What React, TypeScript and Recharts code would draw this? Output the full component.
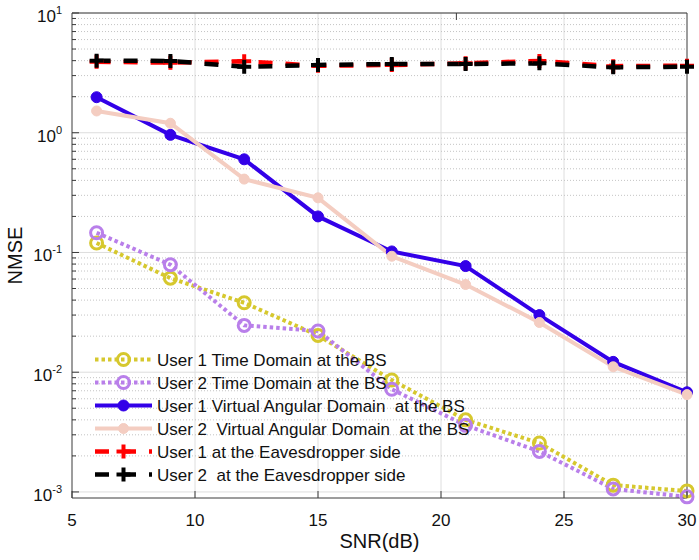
import React from 'react';
import { LineChart, Line, XAxis, YAxis, CartesianGrid, Legend } from 'recharts';

// ---------- data ----------
const snr = [6, 9, 12, 15, 18, 21, 24, 27, 30];
const user1Time = [0.12, 0.061, 0.038, 0.0203, 0.0086, 0.004, 0.00256, 0.00114, 0.00102];
const user2Time = [0.146, 0.079, 0.0246, 0.0221, 0.0072, 0.0036, 0.00218, 0.00106, 0.00091];
const user1Virtual = [1.98, 0.96, 0.6, 0.2, 0.102, 0.077, 0.03, 0.0122, 0.0068];
const user2Virtual = [1.52, 1.2, 0.41, 0.286, 0.093, 0.054, 0.026, 0.0111, 0.0065];
const user1Eve = [3.92, 3.85, 3.95, 3.62, 3.68, 3.8, 3.98, 3.6, 3.63];
const user2Eve = [4.0, 3.98, 3.55, 3.68, 3.75, 3.75, 3.8, 3.52, 3.56];

const xTicks = [5, 10, 15, 20, 25, 30];
const xGrid = [10, 15, 20, 25];
const yDecades = [0.001, 0.01, 0.1, 1, 10];
const yMinor = [
  0.002, 0.003, 0.004, 0.005, 0.006, 0.007, 0.008, 0.009,
  0.02, 0.03, 0.04, 0.05, 0.06, 0.07, 0.08, 0.09,
  0.2, 0.3, 0.4, 0.5, 0.6, 0.7, 0.8, 0.9,
  2, 3, 4, 5, 6, 7, 8, 9,
];
const yAllTicks = [...yDecades, ...yMinor].sort((a, b) => a - b);
const yDomain = [0.00089, 10];
const xDomain = [5, 30];

const xLabel = 'SNR(dB)';
const yLabel = 'NMSE';

// ---------- styles ----------
const FONT = '"Liberation Sans", Arial, Helvetica, sans-serif';
const AXIS = '#3a3a3a';
const TEXT = '#111';
const MAJOR_GRID = '#dedede';
const MINOR_GRID = '#c4c4c4';

type Series = {
  key: string;
  name: string;
  values: number[];
  color: string;
  width: number;
  dash?: string;
  marker: 'ring' | 'dot' | 'smalldot' | 'plus';
};

const series: Series[] = [
  { key: 'u1Time', name: 'User 1 Time Domain at the BS', values: user1Time, color: '#d6c82e', width: 4, dash: '3.5 3', marker: 'ring' },
  { key: 'u2Time', name: 'User 2 Time Domain at the BS', values: user2Time, color: '#b97fea', width: 4, dash: '3.5 3', marker: 'ring' },
  { key: 'u1Virt', name: 'User 1 Virtual Angular Domain  at the BS', values: user1Virtual, color: '#3300e8', width: 4, marker: 'dot' },
  { key: 'u2Virt', name: 'User 2  Virtual Angular Domain  at the BS', values: user2Virtual, color: '#f4cdc1', width: 4, marker: 'smalldot' },
  { key: 'u1Eve', name: 'User 1 at the Eavesdropper side', values: user1Eve, color: '#ff0000', width: 4.5, dash: '14 13', marker: 'plus' },
  { key: 'u2Eve', name: 'User 2  at the Eavesdropper side', values: user2Eve, color: '#000000', width: 4.5, dash: '14 13', marker: 'plus' },
];

const data = snr.map((s, i) => {
  const row: Record<string, number> = { snr: s };
  series.forEach((se) => {
    row[se.key] = se.values[i];
  });
  return row;
});

function drawMarker(kind: Series['marker'], cx: number, cy: number, color: string, key?: string) {
  if (kind === 'ring') {
    return <circle key={key} cx={cx} cy={cy} r={6} fill="none" stroke={color} strokeWidth={3} />;
  }
  if (kind === 'dot') {
    return <circle key={key} cx={cx} cy={cy} r={5.5} fill={color} stroke={color} strokeWidth={1} />;
  }
  if (kind === 'smalldot') {
    return <circle key={key} cx={cx} cy={cy} r={5} fill={color} stroke={color} strokeWidth={1} />;
  }
  return (
    <path
      key={key}
      d={`M${cx - 7},${cy}H${cx + 7}M${cx},${cy - 7}V${cy + 7}`}
      stroke={color}
      strokeWidth={4}
      fill="none"
    />
  );
}

const isDecade = (v: number) => yDecades.some((d) => Math.abs(d - v) / d < 1e-9);

const Y_TICK_MARGIN = 10;

const LeftTick = (props: any) => {
  const { x, y, payload } = props;
  const v = payload.value as number;
  const axisX = x + Y_TICK_MARGIN;
  const major = isDecade(v);
  const exp = Math.round(Math.log10(v));
  return (
    <g>
      <line x1={axisX} x2={axisX + (major ? 7 : 4)} y1={y} y2={y} stroke={AXIS} strokeWidth={1} />
      {major && (
        <text x={x} y={y} textAnchor="end" fontFamily={FONT} fill={TEXT}>
          <tspan fontSize={17} dy={9}>10</tspan>
          <tspan fontSize={11} dy={-8}>{String(exp)}</tspan>
        </text>
      )}
    </g>
  );
};

const RightTick = (props: any) => {
  const { x, y, payload } = props;
  const major = isDecade(payload.value as number);
  return <line x1={x - (major ? 7 : 4)} x2={x} y1={y} y2={y} stroke={AXIS} strokeWidth={1} />;
};

const BottomTick = (props: any) => {
  const { x, y, payload } = props;
  return (
    <g>
      <line x1={x} x2={x} y1={y} y2={y - 7} stroke={AXIS} strokeWidth={1} />
      <text x={x} y={y + 28} textAnchor="middle" fontFamily={FONT} fontSize={17} fill={TEXT}>
        {String(payload.value)}
      </text>
    </g>
  );
};

const TopTick = (props: any) => {
  const { x, y } = props;
  return <line x1={x} x2={x} y1={y} y2={y + 7} stroke={AXIS} strokeWidth={1} />;
};

const XLabelContent = (props: any) => {
  const vb = props.viewBox || {};
  return (
    <text x={vb.x + vb.width / 2} y={vb.y + 50} textAnchor="middle" fontFamily={FONT} fontSize={20} fill={TEXT}>
      {xLabel}
    </text>
  );
};

const YLabelContent = (props: any) => {
  const vb = props.viewBox || {};
  const x = vb.x + 22;
  const y = vb.y + vb.height / 2;
  return (
    <text x={x} y={y} transform={`rotate(-90, ${x}, ${y})`} textAnchor="middle" fontFamily={FONT} fontSize={20} fill={TEXT}>
      {yLabel}
    </text>
  );
};

const renderLegend = () => (
  <div style={{ fontFamily: FONT, fontSize: 17, color: TEXT }}>
    {series.map((s) => (
      <div key={s.key} style={{ display: 'flex', alignItems: 'center', height: 23, whiteSpace: 'pre' }}>
        <svg width={62} height={23} style={{ display: 'block', overflow: 'visible' }}>
          <line x1={0} x2={57} y1={11.5} y2={11.5} stroke={s.color} strokeWidth={s.width} strokeDasharray={s.dash} />
          {drawMarker(s.marker, 28.5, 11.5, s.color)}
        </svg>
        <span style={{ lineHeight: '23px', position: 'relative', top: 1 }}>{s.name}</span>
      </div>
    ))}
  </div>
);

export default function App() {
  return (
    <div style={{ position: 'absolute', left: 0, top: 0, width: 699, height: 560, background: '#fff' }}>
      <LineChart width={699} height={560} data={data} margin={{ top: 12, right: 11, bottom: 0, left: 0 }}>
        <CartesianGrid
          horizontalValues={yDecades}
          verticalValues={xGrid}
          stroke={MAJOR_GRID}
          strokeWidth={1}
          fill="#fff"
        />
        <CartesianGrid
          horizontalValues={yMinor}
          vertical={false}
          stroke={MINOR_GRID}
          strokeWidth={1}
          strokeDasharray="1 2"
        />
        <XAxis
          dataKey="snr"
          type="number"
          domain={xDomain}
          ticks={xTicks}
          interval={0}
          height={62}
          tickSize={0}
          tickMargin={0}
          tickLine={false}
          axisLine={{ stroke: AXIS }}
          tick={(p: any) => <BottomTick {...p} />}
          label={{ content: (p: any) => <XLabelContent {...p} /> }}
        />
        <XAxis
          xAxisId="top"
          orientation="top"
          type="number"
          domain={xDomain}
          ticks={xTicks}
          interval={0}
          height={1}
          tickSize={0}
          tickMargin={0}
          tickLine={false}
          axisLine={{ stroke: AXIS }}
          tick={(p: any) => <TopTick {...p} />}
        />
        <YAxis
          scale="log"
          type="number"
          domain={yDomain}
          ticks={yAllTicks}
          interval={0}
          width={72}
          tickSize={0}
          tickMargin={Y_TICK_MARGIN}
          tickLine={false}
          axisLine={{ stroke: AXIS }}
          tick={(p: any) => <LeftTick {...p} />}
          label={{ content: (p: any) => <YLabelContent {...p} /> }}
        />
        <YAxis
          yAxisId="right"
          orientation="right"
          scale="log"
          type="number"
          domain={yDomain}
          ticks={yAllTicks}
          interval={0}
          width={1}
          tickSize={0}
          tickMargin={0}
          tickLine={false}
          axisLine={{ stroke: AXIS }}
          tick={(p: any) => <RightTick {...p} />}
        />
        {series.map((s) => (
          <Line
            key={s.key}
            dataKey={s.key}
            name={s.name}
            type="linear"
            stroke={s.color}
            strokeWidth={s.width}
            strokeDasharray={s.dash}
            dot={(p: any) => drawMarker(s.marker, p.cx, p.cy, s.color, `${s.key}-${p.index}`)}
            activeDot={false}
            isAnimationActive={false}
          />
        ))}
        <Legend
          layout="vertical"
          align="center"
          verticalAlign="middle"
          content={renderLegend}
          wrapperStyle={{ position: 'absolute', left: 95, top: 348, width: 520, height: 140 }}
        />
      </LineChart>
    </div>
  );
}
